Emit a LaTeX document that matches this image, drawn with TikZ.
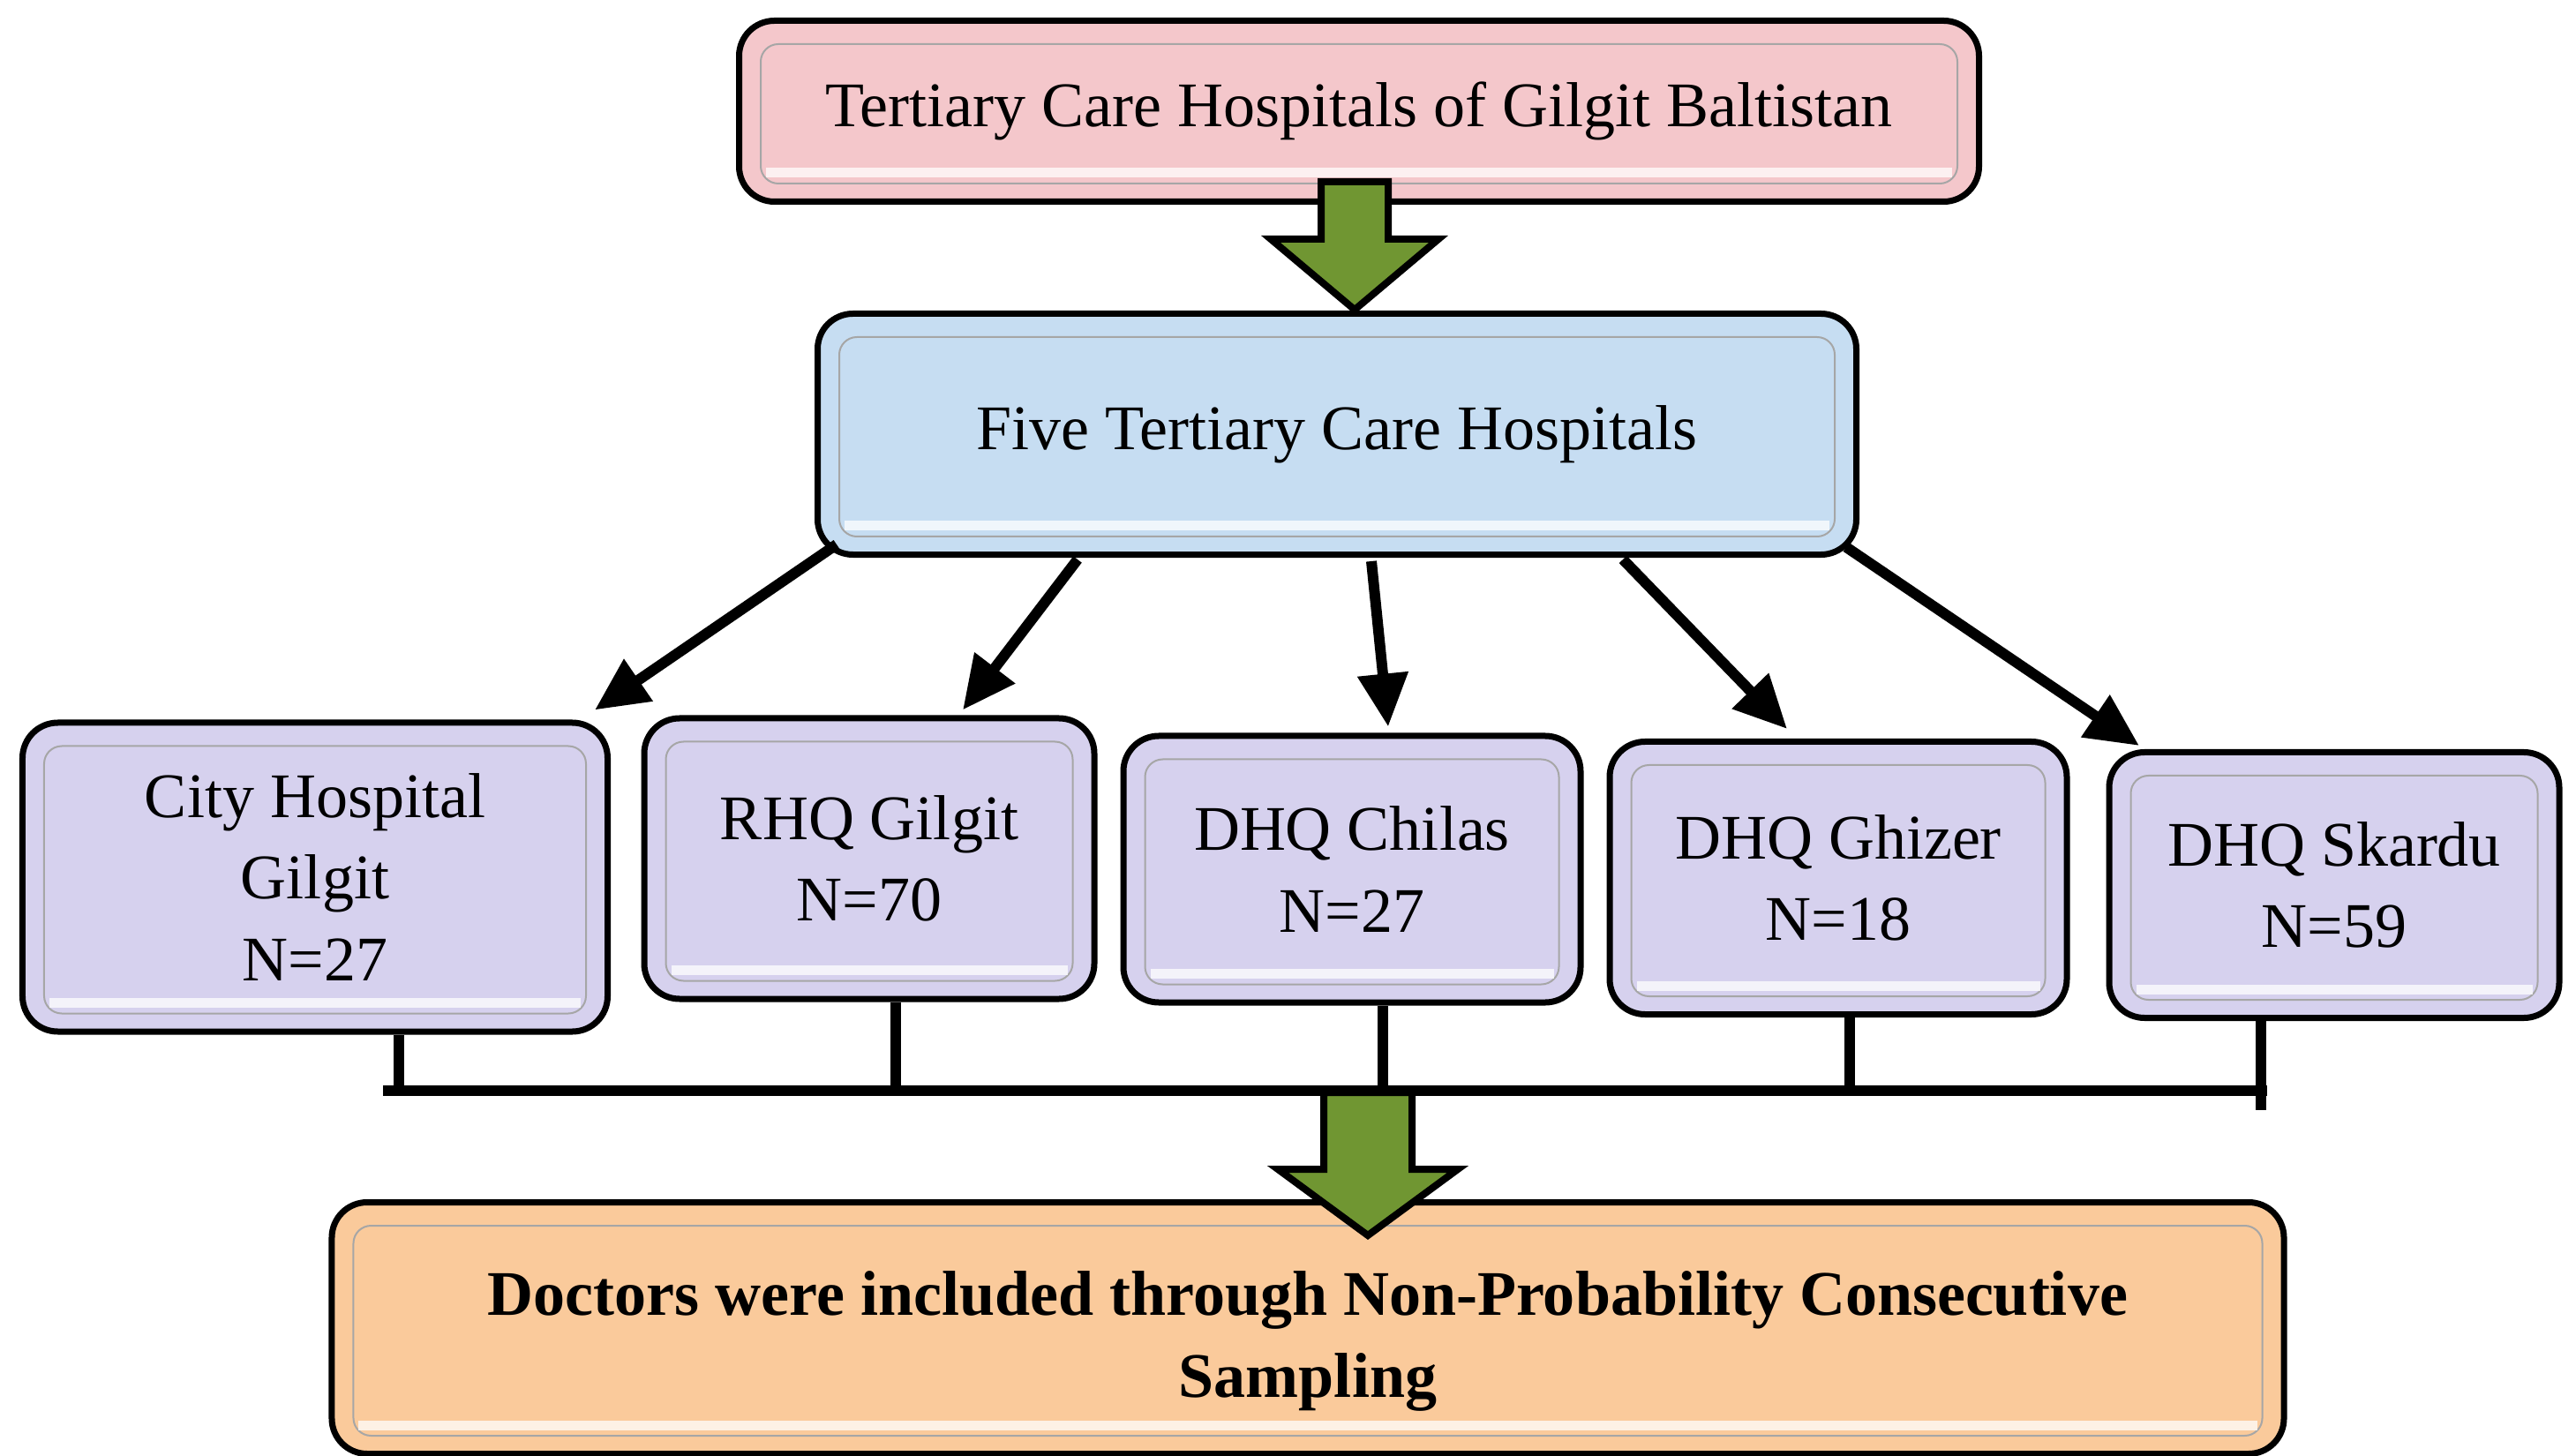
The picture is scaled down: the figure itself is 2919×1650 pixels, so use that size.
\documentclass[tikz,border=0pt]{standalone}
\usepackage{fontspec}
\setmainfont{Liberation Serif}
\usetikzlibrary{calc}
\usetikzlibrary{arrows.meta}

\definecolor{boxpink}{RGB}{244,199,203}
\definecolor{boxblue}{RGB}{198,221,242}
\definecolor{boxlilac}{RGB}{214,209,238}
\definecolor{boxorange}{RGB}{250,202,155}
\definecolor{arrowgreen}{RGB}{112,150,50}

\tikzset{
  hbox/.style={draw=black, line width=1.4pt, rounded corners=8pt, align=center,
    inner sep=0pt, font=\fontsize{14.4}{18.5}\selectfont},
  bevel/.style={draw=black!35, line width=0.4pt, rounded corners=4pt},
  glow/.style={draw=white, line width=2.2pt, opacity=0.75},
  arr/.style={line width=2.4pt, -{Triangle[length=12pt,width=11pt]}},
  link/.style={line width=2.4pt},
  greenarr/.style={draw=black, fill=arrowgreen, line width=1.6pt, line join=miter}
}

\begin{document}
\begin{tikzpicture}[x=0.2pt,y=0.2pt,yscale=-1,xscale=1]
  \useasboundingbox (0,0) rectangle (2919,1650);

  % Boxes
  \node [hbox, fill=boxpink, minimum width=281pt, minimum height=41pt] (top) at (1540,126) {Tertiary Care Hospitals of Gilgit Baltistan};
  \node [hbox, fill=boxblue, minimum width=235.4pt, minimum height=54.6pt] (five) at (1515,492) {Five Tertiary Care Hospitals};
  \node [hbox, fill=boxlilac, minimum width=132.6pt, minimum height=70pt] (city) at (357,994) {City Hospital\\Gilgit\\N=27};
  \node [hbox, fill=boxlilac, minimum width=102pt, minimum height=63.6pt] (rhq) at (985,973) {RHQ Gilgit\\N=70};
  \node [hbox, fill=boxlilac, minimum width=103.6pt, minimum height=60.4pt] (chilas) at (1532,985) {DHQ Chilas\\N=27};
  \node [hbox, fill=boxlilac, minimum width=103.6pt, minimum height=61.8pt] (ghizer) at (2083,995) {DHQ Ghizer\\N=18};
  \node [hbox, fill=boxlilac, minimum width=102pt, minimum height=60.2pt] (skardu) at (2645,1003) {DHQ Skardu\\N=59};
  \node [hbox, fill=boxorange, minimum width=442.4pt, minimum height=57pt] (doctors) at (1482,1505) {\rule{0pt}{16pt}\bfseries Doctors were included through Non-Probability Consecutive\\\bfseries Sampling};

  % inner frames
  \foreach \n in {top,five,city,rhq,chilas,ghizer,skardu,doctors} {
    \draw [bevel] ($(\n.north west)+(28,30)$) rectangle ($(\n.south east)+(-28,-24)$);
    \draw [glow] ($(\n.south west)+(34,-36)$) -- ($(\n.south east)+(-34,-36)$);
  }

  %Straight Lines from the five hospitals
  \draw [arr] ($(five.south)+(-567,-15)$) -- ($(city.north)+(317,-11)$);
  \draw [arr] ($(five.south)+(-294,2)$) -- ($(rhq.north)+(106,-6)$);
  \draw [arr] ($(five.south)+(39,4)$) -- ($(chilas.north)+(41,-7)$);
  \draw [arr] ($(five.south)+(324,2)$) -- ($(ghizer.north)+(-58,-11)$);
  \draw [arr] ($(five.south)+(577,-12)$) -- ($(skardu.north)+(-221,-4)$);

  %Collecting bar
  \coordinate (barL) at (434,1236);
  \coordinate (barR) at (2569,1236);
  \coordinate (barEnd) at (0,1258);
  \coordinate (d1) at ($(city.south)+(95,0)$);
  \coordinate (d2) at ($(rhq.south)+(30,0)$);
  \coordinate (d3) at ($(chilas.south)+(35,0)$);
  \coordinate (d4) at ($(ghizer.south)+(13,0)$);
  \coordinate (d5) at ($(skardu.south)+(-83,0)$);
  \draw [link] (barL) -- (barR);
  \draw [link] (d1) -- (d1 |- barL);
  \draw [link] (d2) -- (d2 |- barL);
  \draw [link] (d3) -- (d3 |- barL);
  \draw [link] (d4) -- (d4 |- barL);
  \draw [link] (d5) -- (d5 |- barEnd);

  %Shape: green arrow, top to five
  \coordinate (g1) at ($(top.south)+(-5,-26)$);
  \draw [greenarr] ($(g1)+(-38,0)$) -- ($(g1)+(38,0)$) -- ($(g1)+(38,65)$) -- ($(g1)+(95,65)$)
    -- ($(g1)+(0,145)$) -- ($(g1)+(-95,65)$) -- ($(g1)+(-38,65)$) -- cycle;

  %Shape: green arrow, bar to doctors
  \coordinate (g2) at ($(barL)+(1116,2)$);
  \draw [greenarr] ($(g2)+(-50,0)$) -- ($(g2)+(50,0)$) -- ($(g2)+(50,87)$) -- ($(g2)+(102,87)$)
    -- ($(g2)+(0,162)$) -- ($(g2)+(-102,87)$) -- ($(g2)+(-50,87)$) -- cycle;

\end{tikzpicture}
\end{document}
